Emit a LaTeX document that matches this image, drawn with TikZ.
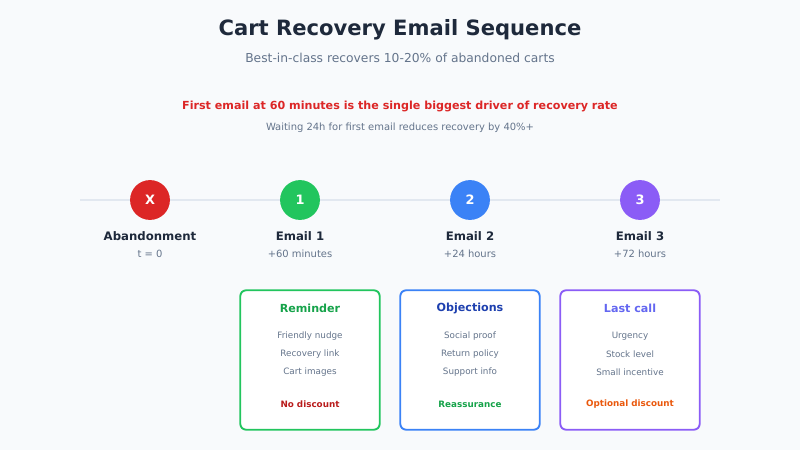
\documentclass[tikz,border=0pt]{standalone}
\usepackage{fontspec}
\setmainfont{DejaVu Sans}
\definecolor{bgc}{HTML}{F8FAFC}
\definecolor{ink}{HTML}{1E293B}
\definecolor{muted}{HTML}{64748B}
\definecolor{track}{HTML}{E2E8F0}
\definecolor{cred}{HTML}{DC2626}
\definecolor{cgreen}{HTML}{22C55E}
\definecolor{cblue}{HTML}{3B82F6}
\definecolor{cpurple}{HTML}{8B5CF6}
\definecolor{tgreen}{HTML}{16A34A}
\definecolor{tblue}{HTML}{1E40AF}
\definecolor{tpurple}{HTML}{6366F1}
\definecolor{dred}{HTML}{B91C1C}
\definecolor{corange}{HTML}{EA580C}
\tikzset{
	step dot/.style={circle,minimum size=40*0.85pt,inner sep=0pt,text=white,font=\bfseries\fontsize{11}{13}\selectfont},
	step name/.style={text=ink,font=\bfseries\fontsize{10}{12}\selectfont},
	step time/.style={text=muted,font=\fontsize{8.5}{10}\selectfont},
	card/.style={draw,line width=1.6pt,rounded corners=5pt,fill=white,minimum width=140*0.85pt,minimum height=140*0.85pt},
	card title/.style={font=\bfseries\fontsize{9.5}{11}\selectfont},
	card item/.style={text=muted,font=\fontsize{7.5}{9}\selectfont},
	card note/.style={font=\bfseries\fontsize{7.5}{9}\selectfont}
}
\begin{document}
\begin{tikzpicture}[x=0.03cm,y=-0.03cm]
	\fill[bgc] (0,0) rectangle (800,450);
	\node[text=ink,font=\bfseries\fontsize{18}{22}\selectfont] (title) at (400,30) {Cart Recovery Email Sequence};
	\node[text=muted,font=\fontsize{10.5}{13}\selectfont] (subtitle) at (400,58) {Best-in-class recovers 10-20\% of abandoned carts};
	\node[text=cred,font=\bfseries\fontsize{9.5}{12}\selectfont] (insight) at (400,106) {First email at 60 minutes is the single biggest driver of recovery rate};
	\node[text=muted,font=\fontsize{8.5}{10}\selectfont] (insightsub) at (400,128) {Waiting 24h for first email reduces recovery by 40\%+};
	% timeline
	\coordinate (tl) at (80,200);
	\coordinate (tr) at (720,200);
	\draw[track,line width=2.5pt] (tl) -- (tr);
	\foreach \x/\c/\t/\n/\w/\nm in {150/cred/X/Abandonment/t = 0/aband,300/cgreen/1/Email 1/+60 minutes/one,470/cblue/2/Email 2/+24 hours/two,640/cpurple/3/Email 3/+72 hours/three}{
		\node[step dot,fill=\c] (\nm) at (\x,200) {\t};
		\node[step name] (\nm name) at (\x,236) {\n};
		\node[step time] (\nm time) at (\x,254) {\w};
	}
	% cards
	\foreach \x/\c/\tc/\t/\a/\b/\d/\nc/\no/\nm in {310/cgreen/tgreen/Reminder/Friendly nudge/Recovery link/Cart images/dred/No discount/remind,470/cblue/tblue/Objections/Social proof/Return policy/Support info/tgreen/Reassurance/object,630/cpurple/tpurple/Last call/Urgency/Stock level/Small incentive/corange/Optional discount/last}{
		\node[card,draw=\c] (\nm) at (\x,360) {};
		\node[card title,text=\tc] (\nm title) at (\x,308) {\t};
		\node[card item] (\nm a) at (\x,336) {\a};
		\node[card item] (\nm b) at (\x,354) {\b};
		\node[card item] (\nm c) at (\x,372) {\d};
		\node[card note,text=\nc] (\nm note) at (\x,404) {\no};
	}
\end{tikzpicture}
\end{document}
